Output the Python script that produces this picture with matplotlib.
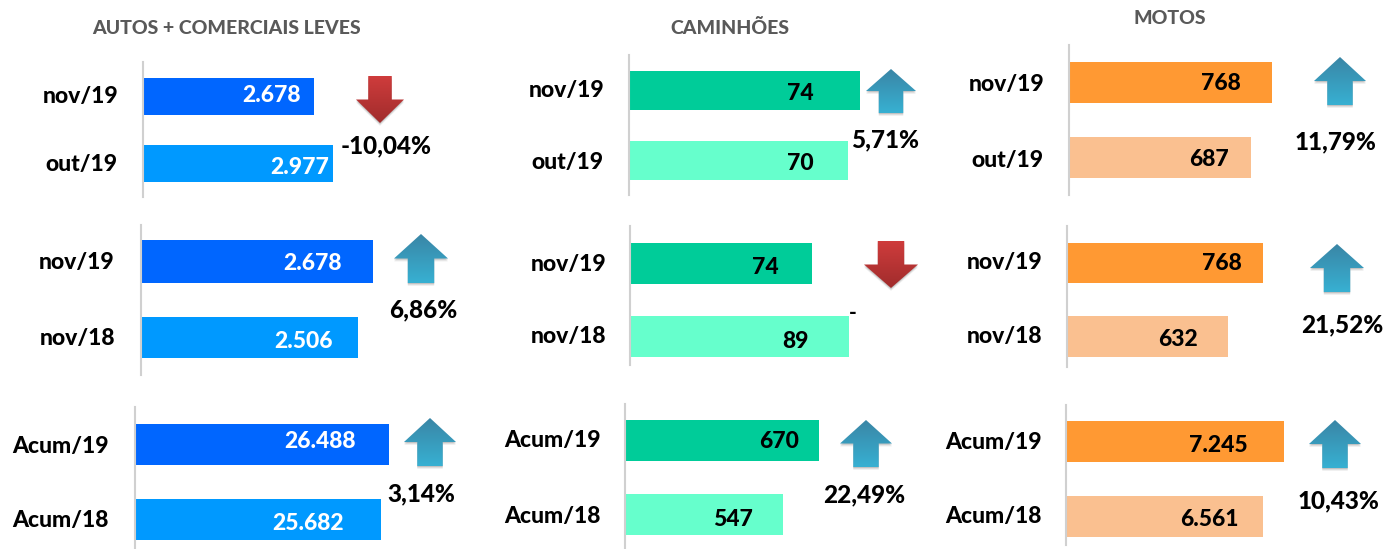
import numpy as np
import matplotlib
matplotlib.use('Agg')
import matplotlib.pyplot as plt
from matplotlib.patches import Polygon
from matplotlib.colors import LinearSegmentedColormap

plt.rcParams['font.family'] = ['Lato', 'DejaVu Sans']
plt.rcParams['font.weight'] = 'black'

W, H = 1383, 549

titles = ['AUTOS + COMERCIAIS LEVES', 'CAMINHÕES', 'MOTOS']

labels_top = ['nov/19', 'nov/19', 'Acum/19']
labels_bottom = ['out/19', 'nov/18', 'Acum/18']

autos_top = [2678, 2678, 26488]
autos_bottom = [2977, 2506, 25682]
autos_text_top = ['2.678', '2.678', '26.488']
autos_text_bottom = ['2.977', '2.506', '25.682']
autos_pct = ['-10,04%', '6,86%', '3,14%']

cam_top = [74, 74, 670]
cam_bottom = [70, 89, 547]
cam_pct = ['5,71%', '', '22,49%']

motos_top = [768, 768, 7245]
motos_bottom = [687, 632, 6561]
motos_text_top = ['768', '768', '7.245']
motos_text_bottom = ['687', '632', '6.561']
motos_pct = ['11,79%', '21,52%', '10,43%']

# pixel layout per panel: axis x, axis top, axis bottom, px at top bar end,
# top bar y0,y1, bottom bar y0,y1, label right edge, value text x top/bottom,
# label y top/bottom, value y top/bottom
layout = {
    'autos': [
        (143, 62, 197, 314, 78, 115, 145, 182, 118, 301, 329, 97, 164, 96, 167),
        (141, 225, 375, 373, 240, 283, 317, 358, 115, 342, 333, 263, 338, 263, 341),
        (135, 407, 548, 389, 424, 465, 499, 540, 109, 356, 344, 446, 520, 441, 523),
    ],
    'cam': [
        (629, 55, 195, 860, 71, 110, 141, 180, 604, 814, 814, 91, 162, 93, 164),
        (630, 226, 365, 812, 243, 284, 316, 357, 606, 779, 809, 264, 337, 267, 341),
        (625, 404, 548, 819, 420, 461, 494, 535, 601, 799, 753, 441, 516, 442, 520),
    ],
    'motos': [
        (1069, 45, 195, 1272, 62, 103, 137, 178, 1044, 1241, 1229, 85, 160, 83, 160),
        (1067, 226, 367, 1263, 243, 283, 316, 357, 1042, 1242, 1198, 263, 337, 264, 340),
        (1066, 405, 545, 1284, 421, 462, 496, 537, 1042, 1248, 1239, 443, 517, 446, 519),
    ],
}

# arrow centre x, top y, bottom y, half width, direction
arrows = [
    (380, 76, 123, 24, 'down'), (421, 234, 283, 27, 'up'), (430, 418, 466, 26, 'up'),
    (891, 69, 113, 25, 'up'), (891, 241, 288, 27, 'down'), (866, 420, 467, 26, 'up'),
    (1340, 57, 105, 26, 'up'), (1337, 244, 292, 27, 'up'), (1335, 420, 468, 26, 'up'),
]

pct_pos = [
    (386, 146, autos_pct[0]), (423, 310, autos_pct[1]), (421, 494, autos_pct[2]),
    (885, 140, cam_pct[0]), (864, 495, cam_pct[2]),
    (1336, 142, motos_pct[0]), (1342, 325, motos_pct[1]), (1339, 501, motos_pct[2]),
]

title_pos = [(226, 29), (730, 28), (1170, 18)]

blue_cm = LinearSegmentedColormap.from_list('b', ['#3a86a6', '#37b0d2'])
red_cm = LinearSegmentedColormap.from_list('r', ['#cf3c3c', '#a02c2c'])

fig = plt.figure(figsize=(W / 100, H / 100), dpi=100, facecolor='white')

# overlay in pixel coords for text and arrows
bg = fig.add_axes([0, 0, 1, 1])
bg.set_xlim(0, W)
bg.set_ylim(H, 0)
bg.axis('off')
bg.set_zorder(2)


def draw_panel(pos, top, bottom, txt_top, txt_bot, lab_top, lab_bot, c_top, c_bot, txt_col):
    ax_x, y_top, y_bot, x_end, t0, t1, b0, b1, lab_x, tx_t, tx_b, ly_t, ly_b, vy_t, vy_b = pos
    # axes spans the axis line height and the top bar length
    ax = fig.add_axes([ax_x / W, 1 - y_bot / H, (x_end - ax_x) / W, (y_bot - y_top) / H])
    ax.patch.set_alpha(0)
    ax.set_xlim(0, top)
    ax.set_ylim(y_bot, y_top)
    ax.barh((t0 + t1) / 2, top, height=t1 - t0, color=c_top, left=0, clip_on=False)
    ax.barh((b0 + b1) / 2, bottom, height=b1 - b0, color=c_bot, left=0, clip_on=False)
    for s in ['top', 'right', 'bottom']:
        ax.spines[s].set_visible(False)
    ax.spines['left'].set_color('#d0d0d0')
    ax.spines['left'].set_linewidth(1.5)
    ax.set_xticks([])
    ax.set_yticks([])
    ax.set_zorder(1)
    bg.text(lab_x, ly_t, lab_top, ha='right', va='center', fontsize=16.5, color='black')
    bg.text(lab_x, ly_b, lab_bot, ha='right', va='center', fontsize=16.5, color='black')
    bg.text(tx_t, vy_t, txt_top, ha='right', va='center', fontsize=16.5, color=txt_col, zorder=5)
    bg.text(tx_b, vy_b, txt_bot, ha='right', va='center', fontsize=16.5, color=txt_col, zorder=5)


for i, pos in enumerate(layout['autos']):
    draw_panel(pos, autos_top[i], autos_bottom[i], autos_text_top[i], autos_text_bottom[i],
               labels_top[i], labels_bottom[i], '#0066ff', '#0099ff', 'white')
for i, pos in enumerate(layout['cam']):
    draw_panel(pos, cam_top[i], cam_bottom[i], str(cam_top[i]), str(cam_bottom[i]),
               labels_top[i], labels_bottom[i], '#00cc99', '#66ffcc', 'black')
for i, pos in enumerate(layout['motos']):
    draw_panel(pos, motos_top[i], motos_bottom[i], motos_text_top[i], motos_text_bottom[i],
               labels_top[i], labels_bottom[i], '#ff9933', '#fac090', 'black')

for (cx, y0, y1, hw, d) in arrows:
    sw = hw * 0.49
    mid = 0.5 * (y0 + y1)
    if d == 'up':
        pts = [(cx, y0), (cx + hw, mid), (cx + sw, mid), (cx + sw, y1), (cx - sw, y1), (cx - sw, mid), (cx - hw, mid)]
        cm = blue_cm
    else:
        pts = [(cx, y1), (cx + hw, mid), (cx + sw, mid), (cx + sw, y0), (cx - sw, y0), (cx - sw, mid), (cx - hw, mid)]
        cm = red_cm
    # soft shadow
    for off, a in [(3, 0.06), (2, 0.08), (1, 0.12)]:
        bg.add_patch(Polygon([(x, y + off) for x, y in pts], closed=True, fc='black', ec='none', alpha=a))
    im = bg.imshow(np.linspace(0, 1, 64).reshape(-1, 1), cmap=cm, extent=(cx - hw, cx + hw, y1, y0),
                   aspect='auto', zorder=3)
    clip = Polygon(pts, closed=True, transform=bg.transData, fc='none', ec='none')
    bg.add_patch(clip)
    im.set_clip_path(clip)

bg.set_xlim(0, W)
bg.set_ylim(H, 0)

for x, y, s in pct_pos:
    bg.text(x, y, s, ha='center', va='center', fontsize=17.5, color='black', zorder=6)

# stray dash next to the 89 bar
bg.text(853, 313, '-', ha='center', va='center', fontsize=15, color='black')

for (x, y), t in zip(title_pos, titles):
    bg.text(x, y, t, ha='center', va='center', fontsize=14, color='#595959')

fig.savefig('out.png', dpi=100)
